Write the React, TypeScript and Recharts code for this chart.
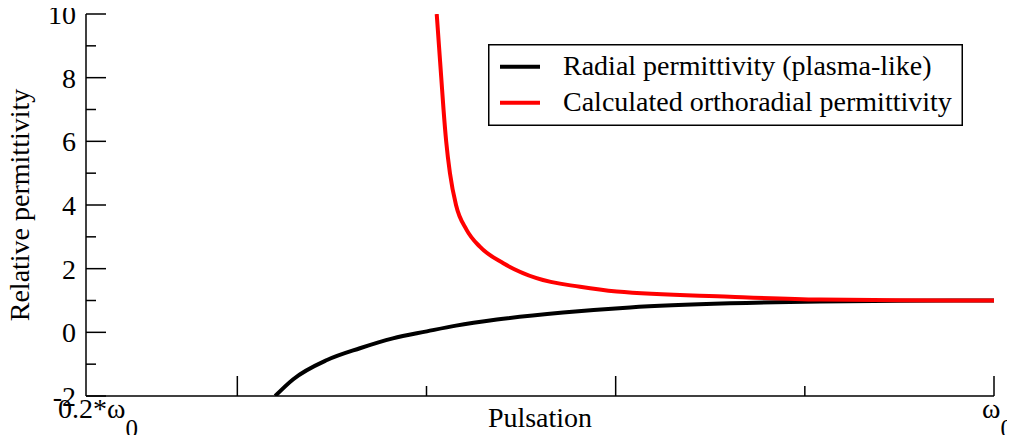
import { LineChart, Line, XAxis, YAxis, Legend } from "recharts";

const FONT = "'Liberation Serif', 'Times New Roman', serif";

// x is in units where omega_0 = 3, so the axis runs from 0.2*w0 (0.6) to w0 (3)
const radialX = [1.1, 1.147, 1.237, 1.324, 1.411, 1.501, 1.578, 1.686, 1.861, 2.038, 2.302, 2.54, 2.752, 3.0];
const radialEps = [-2.0, -1.48, -0.87, -0.5, -0.19, 0.03, 0.21, 0.4, 0.62, 0.78, 0.91, 0.97, 0.99, 1.0];

const orthoX = [1.527, 1.533, 1.539, 1.545, 1.552, 1.562, 1.578, 1.606, 1.641, 1.703, 1.791, 1.906, 2.003, 2.302, 2.54, 2.752, 3.0];
const orthoEps = [10, 9, 8, 7, 6, 5, 4, 3.22, 2.69, 2.17, 1.7, 1.43, 1.28, 1.12, 1.03, 1.01, 1.0];

const seriesNames = ["Radial permittivity (plasma-like)", "Calculated orthoradial permittivity"];

const xTicks = [0.6, 1, 1.5, 2, 2.5, 3];
const yTicks = [-2, -1, 0, 1, 2, 3, 4, 5, 6, 7, 8, 9, 10];

const radialData = radialX.map((x, i) => ({ x, eps: radialEps[i] }));
const orthoData = orthoX.map((x, i) => ({ x, eps: orthoEps[i] }));

const xTickLen = (v: number) => (v === 0.6 ? 0 : Number.isInteger(v) ? 20 : 10);
const yTickLen = (v: number) => (v % 2 === 0 ? 20 : 10);

const txt = { fontFamily: FONT, fontSize: 28, fill: "#000" };

function BottomTick({ x, y, payload }: any) {
  const v = payload.value;
  const len = xTickLen(v);
  return (
    <g>
      {len > 0 && <line x1={x} y1={y} x2={x} y2={y - len} stroke="#000" strokeWidth={1.5} />}
      {v === 0.6 && (
        <text x={x - 28} y={y + 22} style={txt}>
          0.2*ω<tspan style={{ fontSize: 25 }} dy={19}>0</tspan>
        </text>
      )}
      {v === 3 && (
        <text x={x - 12} y={y + 22} style={txt}>
          ω<tspan style={{ fontSize: 25 }} dy={19}>0</tspan>
        </text>
      )}
    </g>
  );
}

function TopTick({ x, y, payload }: any) {
  const len = xTickLen(payload.value);
  if (!len) return <g />;
  return <line x1={x} y1={y} x2={x} y2={y + len} stroke="#000" strokeWidth={1.5} />;
}

function LeftTick({ x, y, payload }: any) {
  const v = payload.value;
  return (
    <g>
      <line x1={x} y1={y} x2={x + yTickLen(v)} y2={y} stroke="#000" strokeWidth={1.5} />
      {v % 2 === 0 && (
        <text x={x - 10} y={y + 10} textAnchor="end" style={txt}>
          {v}
        </text>
      )}
    </g>
  );
}

function RightTick({ x, y, payload }: any) {
  return <line x1={x} y1={y} x2={x - yTickLen(payload.value)} y2={y} stroke="#000" strokeWidth={1.5} />;
}

function YTitle({ viewBox }: any) {
  const cx = viewBox.x + 29;
  const cy = viewBox.y + viewBox.height / 2;
  return (
    <text x={cx} y={cy} transform={`rotate(-90 ${cx} ${cy})`} textAnchor="middle" style={txt}>
      Relative permittivity
    </text>
  );
}

function XTitle({ viewBox }: any) {
  return (
    <text x={viewBox.x + viewBox.width / 2} y={viewBox.y + 31} textAnchor="middle" style={txt}>
      Pulsation
    </text>
  );
}

function LegendBox({ payload }: any) {
  const items = [...(payload || [])].sort(
    (a: any, b: any) => seriesNames.indexOf(a.value) - seriesNames.indexOf(b.value)
  );
  return (
    <svg width={475} height={82} style={{ display: "block" }}>
      <rect x={0.75} y={0.75} width={473.5} height={80.5} fill="#fff" stroke="#000" strokeWidth={1.5} />
      {items.map((p: any, i: number) => (
        <g key={p.value}>
          <line x1={12} x2={52} y1={22.7 + i * 36} y2={22.7 + i * 36} stroke={p.color} strokeWidth={4} />
          <text x={75} y={31 + i * 36} style={txt}>
            {p.value}
          </text>
        </g>
      ))}
    </svg>
  );
}

export default function App() {
  return (
    <div style={{ margin: -8, width: 1015, height: 443 }}>
      <LineChart width={1015} height={443} margin={{ top: 14, right: 21, bottom: 0, left: 0 }}>
        <XAxis
          type="number"
          dataKey="x"
          domain={[0.6, 3]}
          ticks={xTicks}
          allowDataOverflow
          height={47}
          tickSize={0}
          tickMargin={0}
          tickLine={false}
          axisLine={{ stroke: "#000", strokeWidth: 1.5 }}
          tick={<BottomTick />}
          interval={0}
          label={XTitle}
        />
        <XAxis
          xAxisId="top"
          orientation="top"
          type="number"
          domain={[0.6, 3]}
          ticks={xTicks}
          allowDataOverflow
          height={0}
          tickSize={0}
          tickMargin={0}
          tickLine={false}
          axisLine={{ stroke: "#000", strokeWidth: 1.5 }}
          tick={<TopTick />}
          interval={0}
        />
        <YAxis
          type="number"
          domain={[-2, 10]}
          ticks={yTicks}
          allowDataOverflow
          width={86}
          tickSize={0}
          tickMargin={0}
          tickLine={false}
          axisLine={{ stroke: "#000", strokeWidth: 1.5 }}
          tick={<LeftTick />}
          interval={0}
          label={YTitle}
        />
        <YAxis
          yAxisId="right"
          orientation="right"
          type="number"
          domain={[-2, 10]}
          ticks={yTicks}
          allowDataOverflow
          width={0}
          tickSize={0}
          tickMargin={0}
          tickLine={false}
          axisLine={{ stroke: "#000", strokeWidth: 1.5 }}
          tick={<RightTick />}
          interval={0}
        />
        <Legend
          layout="horizontal"
          verticalAlign="middle"
          align="center"
          content={<LegendBox />}
          wrapperStyle={{ left: 488, top: 44, width: 475, height: 82 }}
        />
        <Line
          data={radialData}
          dataKey="eps"
          name={seriesNames[0]}
          type="monotone"
          stroke="#000"
          strokeWidth={4}
          dot={false}
          activeDot={false}
          isAnimationActive={false}
        />
        <Line
          data={orthoData}
          dataKey="eps"
          name={seriesNames[1]}
          type="monotone"
          stroke="#ff0000"
          strokeWidth={4}
          dot={false}
          activeDot={false}
          isAnimationActive={false}
        />
      </LineChart>
    </div>
  );
}
